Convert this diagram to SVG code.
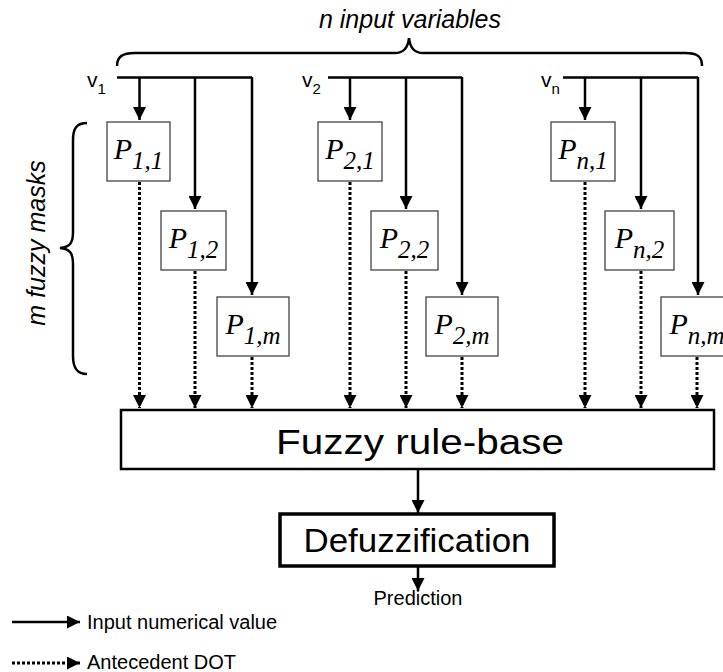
<svg xmlns="http://www.w3.org/2000/svg" width="723" height="672" viewBox="0 0 723 672">
<defs>
<marker id="ah" markerUnits="userSpaceOnUse" markerWidth="14" markerHeight="13" refX="13" refY="6.5" orient="auto" viewBox="0 0 14 13">
<path d="M0,0 L13,6.5 L0,13 z" fill="#000"/>
</marker>
</defs>
<style>
.s{stroke:#000;stroke-width:2.5;fill:none}
.sa{stroke:#000;stroke-width:2.5;fill:none;marker-end:url(#ah)}
.da{stroke:#000;stroke-width:3;fill:none;stroke-dasharray:3 2;marker-end:url(#ah)}
.box{fill:#fff;stroke:#444;stroke-width:1.3}
.p{font-family:"Liberation Serif","Times New Roman",serif;font-style:italic;font-size:30px;fill:#000}
.sub{font-size:25px}
.lab{font-family:"Liberation Sans",Arial,sans-serif;fill:#000}
.brace{stroke:#000;stroke-width:2.5;fill:none}
</style>
<g id="labels">
<text class="lab" x="410" y="28" font-size="25" font-style="italic" text-anchor="middle">n input variables</text>
<text class="lab" transform="translate(45,243) rotate(-90)" font-size="25" font-style="italic" text-anchor="middle">m fuzzy masks</text>
<text class="lab" x="87" y="87" font-size="21">v<tspan font-size="15" dy="7">1</tspan></text>
<text class="lab" x="302" y="87" font-size="21">v<tspan font-size="15" dy="7">2</tspan></text>
<text class="lab" x="541" y="87" font-size="21">v<tspan font-size="15" dy="7">n</tspan></text>
</g>
<g id="braces">
<path class="brace" d="M117,66 C117,57 122,53 135,53 L395,53 C404,53 408,48 409,38 C410,48 414,53 423,53 L685,53 C698,53 702,57 702,66"/>
<path class="brace" d="M87,123 C77,123 73,128 73,140 L73,232 C73,243 70,247 60,248 C70,249 73,253 73,264 L73,356 C73,368 77,374 87,374"/>
</g>
<g id="connectors">
<path class="s" d="M117,77.5 L252,77.5 M328,77.5 L462,77.5 M563,77.5 L698,77.5"/>
<line class="sa" x1="139.5" y1="77" x2="139.5" y2="120"/>
<line class="sa" x1="195" y1="77" x2="195" y2="209"/>
<line class="sa" x1="252" y1="77" x2="252" y2="295"/>
<line class="sa" x1="350" y1="77" x2="350" y2="120"/>
<line class="sa" x1="406" y1="77" x2="406" y2="209"/>
<line class="sa" x1="462" y1="77" x2="462" y2="295"/>
<line class="sa" x1="585" y1="77" x2="585" y2="120"/>
<line class="sa" x1="641" y1="77" x2="641" y2="209"/>
<line class="sa" x1="698" y1="77" x2="698" y2="295"/>
<line class="da" x1="139.5" y1="182" x2="139.5" y2="408"/>
<line class="da" x1="195" y1="271" x2="195" y2="408"/>
<line class="da" x1="252" y1="357" x2="252" y2="408"/>
<line class="da" x1="350" y1="182" x2="350" y2="408"/>
<line class="da" x1="406" y1="271" x2="406" y2="408"/>
<line class="da" x1="462" y1="357" x2="462" y2="408"/>
<line class="da" x1="585" y1="182" x2="585" y2="408"/>
<line class="da" x1="641" y1="271" x2="641" y2="408"/>
<line class="da" x1="697" y1="357" x2="697" y2="408"/>
<line class="sa" x1="418" y1="470" x2="418" y2="513"/>
<line class="sa" x1="418" y1="567" x2="418" y2="591"/>
</g>
<g id="P11"><rect class="box" x="107" y="122" width="63" height="59"/><text class="p" x="138.5" y="159" text-anchor="middle">P<tspan class="sub" dy="10">1,1</tspan></text></g>
<g id="P12"><rect class="box" x="161" y="211" width="65" height="59"/><text class="p" x="193.5" y="248" text-anchor="middle">P<tspan class="sub" dy="10">1,2</tspan></text></g>
<g id="P1m"><rect class="box" x="217" y="297" width="72" height="59"/><text class="p" x="253" y="334" text-anchor="middle">P<tspan class="sub" dy="10">1,m</tspan></text></g>
<g id="P21"><rect class="box" x="318" y="122" width="64" height="59"/><text class="p" x="350" y="159" text-anchor="middle">P<tspan class="sub" dy="10">2,1</tspan></text></g>
<g id="P22"><rect class="box" x="371" y="211" width="67" height="59"/><text class="p" x="404.5" y="248" text-anchor="middle">P<tspan class="sub" dy="10">2,2</tspan></text></g>
<g id="P2m"><rect class="box" x="426" y="297" width="72" height="59"/><text class="p" x="462" y="334" text-anchor="middle">P<tspan class="sub" dy="10">2,m</tspan></text></g>
<g id="Pn1"><rect class="box" x="551" y="122" width="64" height="59"/><text class="p" x="583" y="159" text-anchor="middle">P<tspan class="sub" dy="10">n,1</tspan></text></g>
<g id="Pn2"><rect class="box" x="605" y="211" width="69" height="59"/><text class="p" x="639.5" y="248" text-anchor="middle">P<tspan class="sub" dy="10">n,2</tspan></text></g>
<g id="Pnm"><rect class="box" x="661" y="297" width="72" height="59"/><text class="p" x="697" y="334" text-anchor="middle">P<tspan class="sub" dy="10">n,m</tspan></text></g>
<g id="rulebase"><rect x="121" y="410" width="593" height="59" fill="#fff" stroke="#000" stroke-width="2.5"/><text class="lab" x="420" y="454" font-size="35" text-anchor="middle" textLength="288" lengthAdjust="spacingAndGlyphs">Fuzzy rule-base</text></g>
<g id="defuzz"><rect x="280" y="514" width="274" height="52" fill="#fff" stroke="#000" stroke-width="3.5"/><text class="lab" x="417" y="552" font-size="34" text-anchor="middle" textLength="227" lengthAdjust="spacingAndGlyphs">Defuzzification</text></g>
<g id="prediction"><text class="lab" x="418" y="605" font-size="20" text-anchor="middle">Prediction</text></g>
<g id="legend">
<line class="sa" x1="12" y1="622" x2="80" y2="622"/>
<text class="lab" x="87" y="629" font-size="20">Input numerical value</text>
<line class="da" x1="12" y1="663" x2="80" y2="663"/>
<text class="lab" x="87" y="669" font-size="20">Antecedent DOT</text>
</g>
</svg>
